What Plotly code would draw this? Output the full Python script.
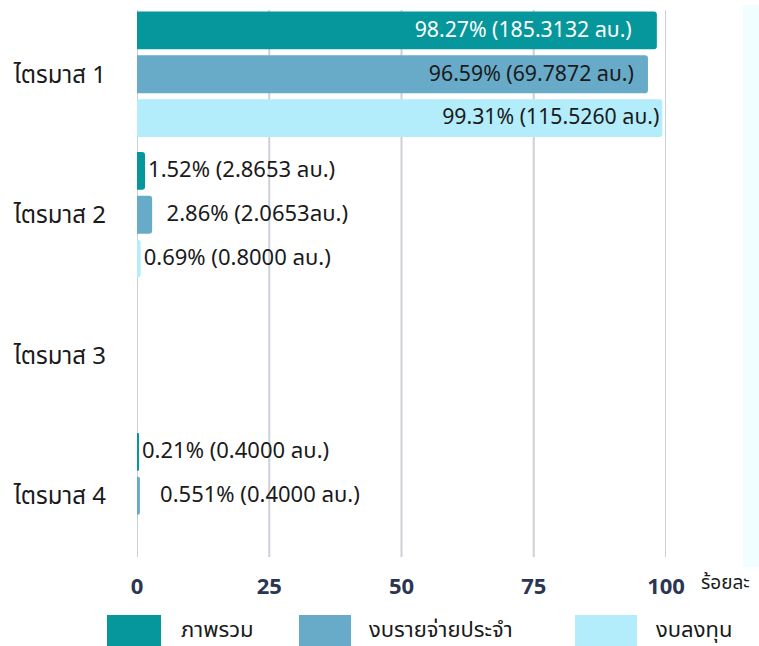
import plotly.graph_objects as go

categories = ["ไตรมาส 1", "ไตรมาส 2", "ไตรมาส 3", "ไตรมาส 4"]
series_names = ["ภาพรวม", "งบรายจ่ายประจำ", "งบลงทุน"]
overall_pct = [98.27, 1.52, 0, 0.21]
recurring_pct = [96.59, 2.86, 0, 0.551]
capital_pct = [99.31, 0.69, 0, None]
overall_text = ["98.27% (185.3132 ลบ.)    ", "1.52% (2.8653 ลบ.)", "", "0.21% (0.4000 ลบ.)"]
recurring_text = ["96.59% (69.7872 ลบ.)  ", "  2.86% (2.0653ลบ.)", "", "   0.551% (0.4000 ลบ.)"]
capital_text = ["99.31% (115.5260 ลบ.)", "0.69% (0.8000 ลบ.)", "", ""]
x_ticks = [0, 25, 50, 75, 100]
x_unit = "ร้อยละ"

colors = ["#05979b", "#68abc9", "#b3edfb"]
text_colors = ["#ffffff", "#1a1a1a", "#1a1a1a"]

W, H = 759, 646
ML, MR, MT, MB = 137, 93, 4, 80
PW, PH = W - ML - MR, H - MT - MB

def px_x(px):
    return (px - ML) / PW

def px_y(py):
    return (H - MB - py) / PH

FONT = "Noto Sans Thai, Noto Sans, sans-serif"

fig = go.Figure()
for name, vals, txt, col, tcol in [
    (series_names[0], overall_pct, overall_text, colors[0], text_colors[0]),
    (series_names[1], recurring_pct, recurring_text, colors[1], text_colors[1]),
    (series_names[2], capital_pct, capital_text, colors[2], text_colors[2]),
]:
    positions = ["inside" if (v is not None and v > 50) else "outside" for v in vals]
    fig.add_trace(go.Bar(
        name=name, y=categories, x=vals, orientation="h",
        marker=dict(color=col, line=dict(width=0), cornerradius=3),
        text=txt, textposition=positions, insidetextanchor="end",
        insidetextfont=dict(color=tcol, size=22, family=FONT),
        outsidetextfont=dict(color="#1a1a1a", size=22, family=FONT),
        textangle=0, cliponaxis=False, hoverinfo="skip",
    ))

# vertical grid lines
for t in x_ticks:
    fig.add_shape(type="line", xref="x", yref="paper", x0=t, x1=t,
                  y0=px_y(557), y1=px_y(10), line=dict(color="#cdd0d8", width=2),
                  layer="below")

# right light strip
fig.add_shape(type="rect", xref="paper", yref="paper", x0=px_x(743), x1=px_x(760),
              y0=px_y(567), y1=px_y(5), fillcolor="#f0feff", line=dict(width=0), layer="below")

# axis unit
fig.add_annotation(text=x_unit, xref="paper", yref="paper", x=px_x(699), y=px_y(583),
                   xanchor="left", yanchor="middle", showarrow=False,
                   font=dict(size=19, color="#1a1a1a", family=FONT))

# custom legend
legend_items = [(107, 161, 179), (299, 351, 367), (575, 637, 654)]
for (x0, x1, tx), name, col in zip(legend_items, series_names, colors):
    fig.add_shape(type="rect", xref="paper", yref="paper", x0=px_x(x0), x1=px_x(x1),
                  y0=px_y(646), y1=px_y(615), fillcolor=col, line=dict(width=0))
    fig.add_annotation(text=name, xref="paper", yref="paper", x=px_x(tx), y=px_y(630),
                       xanchor="left", yanchor="middle", showarrow=False,
                       font=dict(size=22, color="#1a1a1a", family=FONT))

fig.update_layout(
    width=W, height=H, margin=dict(l=ML, r=MR, t=MT, b=MB, autoexpand=False),
    paper_bgcolor="white", plot_bgcolor="white",
    barmode="group", bargap=0.064, bargroupgap=0.136,
    showlegend=False, font=dict(family=FONT),
)
fig.update_xaxes(range=[0, 100], tickvals=x_ticks, showgrid=False, zeroline=False,
                 showline=False, ticks="", ticklabelstandoff=5, automargin=False,
                 tickfont=dict(family="Open Sans, sans-serif", size=22, color="#2b3652", weight="bold"))
fig.update_yaxes(autorange="reversed", showgrid=False, zeroline=False, showline=False,
                 ticks="", ticklabelstandoff=30, automargin=False,
                 tickfont=dict(size=24, color="#1a1a1a", family=FONT))

fig.write_html("out.html", config={"displayModeBar": False},
               post_script="document.body.style.margin='0';document.body.style.overflow='hidden';")
